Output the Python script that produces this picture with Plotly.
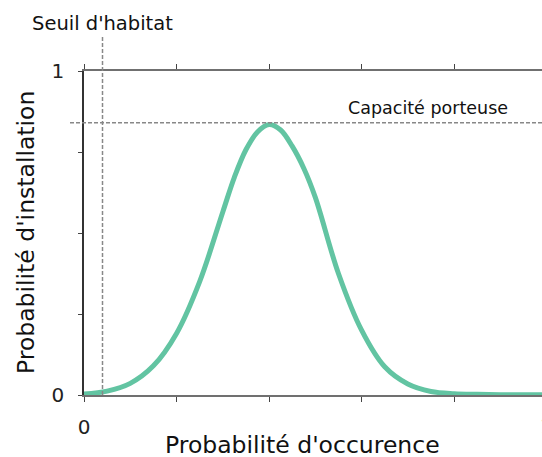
import plotly.graph_objects as go

# Curve: probability of establishment as a function of probability of occurrence
occurrence = [0.00, 0.05, 0.10, 0.15, 0.20, 0.25, 0.30, 0.325, 0.35, 0.375, 0.40,
              0.425, 0.45, 0.475, 0.50, 0.55, 0.60, 0.65, 0.70, 0.75, 0.80,
              0.85, 0.90, 0.95, 0.99]
installation = [0.003, 0.012, 0.036, 0.090, 0.190, 0.350, 0.565, 0.672, 0.757, 0.812, 0.835,
                0.818, 0.768, 0.700, 0.610, 0.375, 0.200, 0.087, 0.034, 0.011, 0.004,
                0.002, 0.001, 0.001, 0.001]

habitat_threshold = 0.04
carrying_capacity = 0.84

x_tickvals = [0, 0.2, 0.4, 0.6, 0.8, 1.0]
x_ticktext = ["0", "", "", "", "", "1"]
y_tickvals = [0, 0.25, 0.5, 0.75, 1.0]
y_ticktext = ["0", "", "", "", "1"]

X_RANGE = [0, 0.99]
Y_RANGE = [0, 1]

W, H = 542, 457
M = dict(l=84, r=0, t=71, b=62)


def xpaper(v):
    return (v - X_RANGE[0]) / (X_RANGE[1] - X_RANGE[0])


def ypaper(v):
    return (v - Y_RANGE[0]) / (Y_RANGE[1] - Y_RANGE[0])


plot_w = W - M["l"] - M["r"]
plot_h = H - M["t"] - M["b"]

fig = go.Figure()
fig.add_trace(go.Scatter(
    x=occurrence, y=installation, mode="lines",
    line=dict(color="#62c4a2", width=5, shape="spline", smoothing=1),
    cliponaxis=False, hoverinfo="skip", showlegend=False,
))

dash_line = dict(color="#888888", width=1.5, dash="4px,2px")
# habitat threshold (vertical), reaching above the plot area
fig.add_shape(type="line", xref="paper", yref="paper",
              x0=xpaper(habitat_threshold), x1=xpaper(habitat_threshold),
              y0=ypaper(0), y1=1 + 35 / plot_h, line=dash_line, layer="above")
# carrying capacity (horizontal), reaching into the left margin
fig.add_shape(type="line", xref="paper", yref="paper",
              x0=-14 / plot_w, x1=1,
              y0=ypaper(carrying_capacity), y1=ypaper(carrying_capacity),
              line=dash_line, layer="above")

text_font = dict(family="DejaVu Sans", color="#111111")
fig.add_annotation(text="Seuil d'habitat", xref="paper", yref="paper",
                   x=xpaper(habitat_threshold), y=1 + 48 / plot_h,
                   xanchor="center", yanchor="middle", showarrow=False,
                   font=dict(size=19.5, **text_font))
fig.add_annotation(text="Capacité porteuse", xref="paper", yref="paper",
                   x=1 - 32 / plot_w, y=ypaper(carrying_capacity),
                   xanchor="right", yanchor="bottom", yshift=3, showarrow=False,
                   font=dict(size=17.5, **text_font))
fig.add_annotation(text="Probabilité d'occurence", xref="paper", yref="paper",
                   x=(302 - M["l"]) / plot_w, y=-50 / plot_h,
                   xanchor="center", yanchor="middle", showarrow=False,
                   font=dict(size=23.5, **text_font))
fig.add_annotation(text="Probabilité d'installation", xref="paper", yref="paper",
                   x=-58 / plot_w, y=0.5, textangle=-90,
                   xanchor="center", yanchor="middle", showarrow=False,
                   font=dict(size=23.5, **text_font))
# end label of the x axis, sitting just past the right edge
fig.add_annotation(text="1", xref="paper", yref="paper",
                   x=xpaper(1.0), y=-31 / plot_h,
                   xanchor="center", yanchor="middle", showarrow=False,
                   font=dict(size=20, **text_font))

fig.update_xaxes(
    range=X_RANGE, showgrid=False, zeroline=False,
    showline=True, linecolor="#707070", linewidth=2, mirror="ticks",
    ticks="outside", ticklen=5, tickwidth=1, tickcolor="#444444",
    tickvals=x_tickvals, ticktext=x_ticktext, ticklabelstandoff=8,
    tickfont=dict(size=20, family="DejaVu Sans", color="#222222"),
    layer="below traces",
)
fig.update_yaxes(
    range=Y_RANGE, showgrid=False, zeroline=False,
    showline=True, linecolor="#333333", linewidth=1.5,
    ticks="outside", ticklen=4, tickwidth=1, tickcolor="#444444",
    tickvals=y_tickvals, ticktext=y_ticktext, ticklabelstandoff=10,
    tickfont=dict(size=20, family="DejaVu Sans", color="#222222"),
    layer="below traces",
)

fig.update_layout(
    width=W, height=H, margin=M,
    paper_bgcolor="white", plot_bgcolor="white",
    showlegend=False,
)

fig.write_html("out.html")
